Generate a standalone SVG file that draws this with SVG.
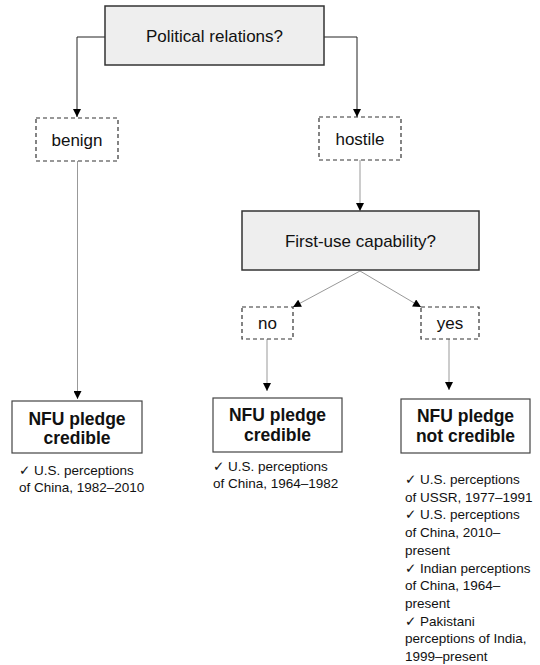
<svg xmlns="http://www.w3.org/2000/svg" width="540" height="665" viewBox="0 0 540 665">
<style>
  .q { fill: #eeeeee; stroke: #333333; stroke-width: 1.5; }
  .d { fill: #ffffff; stroke: #333333; stroke-width: 1.2; stroke-dasharray: 4 3; }
  .r { fill: #ffffff; stroke: #444444; stroke-width: 1.2; }
  .t { font-family: "Liberation Sans", Arial, sans-serif; font-size: 17px; fill: #111111; text-anchor: middle; }
  .b { font-family: "Liberation Sans", Arial, sans-serif; font-size: 17.5px; font-weight: bold; fill: #111111; text-anchor: middle; }
  .n { font-family: "Liberation Sans", "DejaVu Sans", Arial, sans-serif; font-size: 13.5px; fill: #111111; }
  .k { fill: none; stroke: #222222; stroke-width: 1; }
  .g { fill: none; stroke: #999999; stroke-width: 1; }
</style>
<defs>
  <marker id="arr" viewBox="0 0 10 10" refX="10" refY="5" markerUnits="userSpaceOnUse" markerWidth="9" markerHeight="8" orient="auto">
    <path d="M0,0 L10,5 L0,10 z" fill="#000000"/>
  </marker>
</defs>
<rect width="540" height="665" fill="#ffffff"/>

<g id="connectors">
  <polyline class="k" points="105,37 77,37 77,117" marker-end="url(#arr)"/>
  <polyline class="k" points="324,37 357,37 357,117" marker-end="url(#arr)"/>
  <line class="g" x1="77.5" y1="161" x2="77.5" y2="399" marker-end="url(#arr)"/>
  <line class="g" x1="360" y1="160" x2="360" y2="211" marker-end="url(#arr)"/>
  <line class="g" x1="360" y1="271" x2="293" y2="307" marker-end="url(#arr)"/>
  <line class="g" x1="360" y1="271" x2="421" y2="307" marker-end="url(#arr)"/>
  <line class="g" x1="267" y1="339" x2="267" y2="391" marker-end="url(#arr)"/>
  <line class="g" x1="449" y1="339" x2="449" y2="390" marker-end="url(#arr)"/>
</g>

<g id="political">
  <rect class="q" x="105" y="6" width="219" height="59"/>
  <text class="t" x="214.5" y="41.5">Political relations?</text>
</g>
<g id="benign">
  <rect class="d" x="36" y="118" width="82" height="43"/>
  <text class="t" x="77" y="145.5">benign</text>
</g>
<g id="hostile">
  <rect class="d" x="319" y="117" width="82" height="43"/>
  <text class="t" x="360" y="145">hostile</text>
</g>
<g id="firstuse">
  <rect class="q" x="242" y="211" width="237" height="59"/>
  <text class="t" x="360.5" y="246.5">First-use capability?</text>
</g>
<g id="no">
  <rect class="d" x="242" y="307" width="51" height="32"/>
  <text class="t" x="267.5" y="329">no</text>
</g>
<g id="yes">
  <rect class="d" x="421" y="307" width="58" height="32"/>
  <text class="t" x="450" y="329">yes</text>
</g>
<g id="outcome1">
  <rect class="r" x="12" y="401" width="130" height="52"/>
  <text class="b" x="77" y="424.5">NFU pledge</text>
  <text class="b" x="77" y="443.5">credible</text>
  <text class="n" x="19" y="474.5">✓ U.S. perceptions</text>
  <text class="n" x="19" y="492">of China, 1982–2010</text>
</g>
<g id="outcome2">
  <rect class="r" x="213" y="398" width="129" height="54"/>
  <text class="b" x="277.5" y="421">NFU pledge</text>
  <text class="b" x="277.5" y="441">credible</text>
  <text class="n" x="213" y="470.5">✓ U.S. perceptions</text>
  <text class="n" x="213" y="488">of China, 1964–1982</text>
</g>
<g id="outcome3">
  <rect class="r" x="401" y="399" width="129" height="54"/>
  <text class="b" x="465.5" y="422">NFU pledge</text>
  <text class="b" x="465.5" y="442">not credible</text>
  <text class="n" x="405" y="484">✓ U.S. perceptions</text>
  <text class="n" x="405" y="501.7">of USSR, 1977–1991</text>
  <text class="n" x="405" y="519.4">✓ U.S. perceptions</text>
  <text class="n" x="405" y="537.1">of China, 2010–</text>
  <text class="n" x="405" y="554.8">present</text>
  <text class="n" x="405" y="572.5">✓ Indian perceptions</text>
  <text class="n" x="405" y="590.2">of China, 1964–</text>
  <text class="n" x="405" y="607.9">present</text>
  <text class="n" x="405" y="625.6">✓ Pakistani</text>
  <text class="n" x="405" y="643.3">perceptions of India,</text>
  <text class="n" x="405" y="661">1999–present</text>
</g>
</svg>
